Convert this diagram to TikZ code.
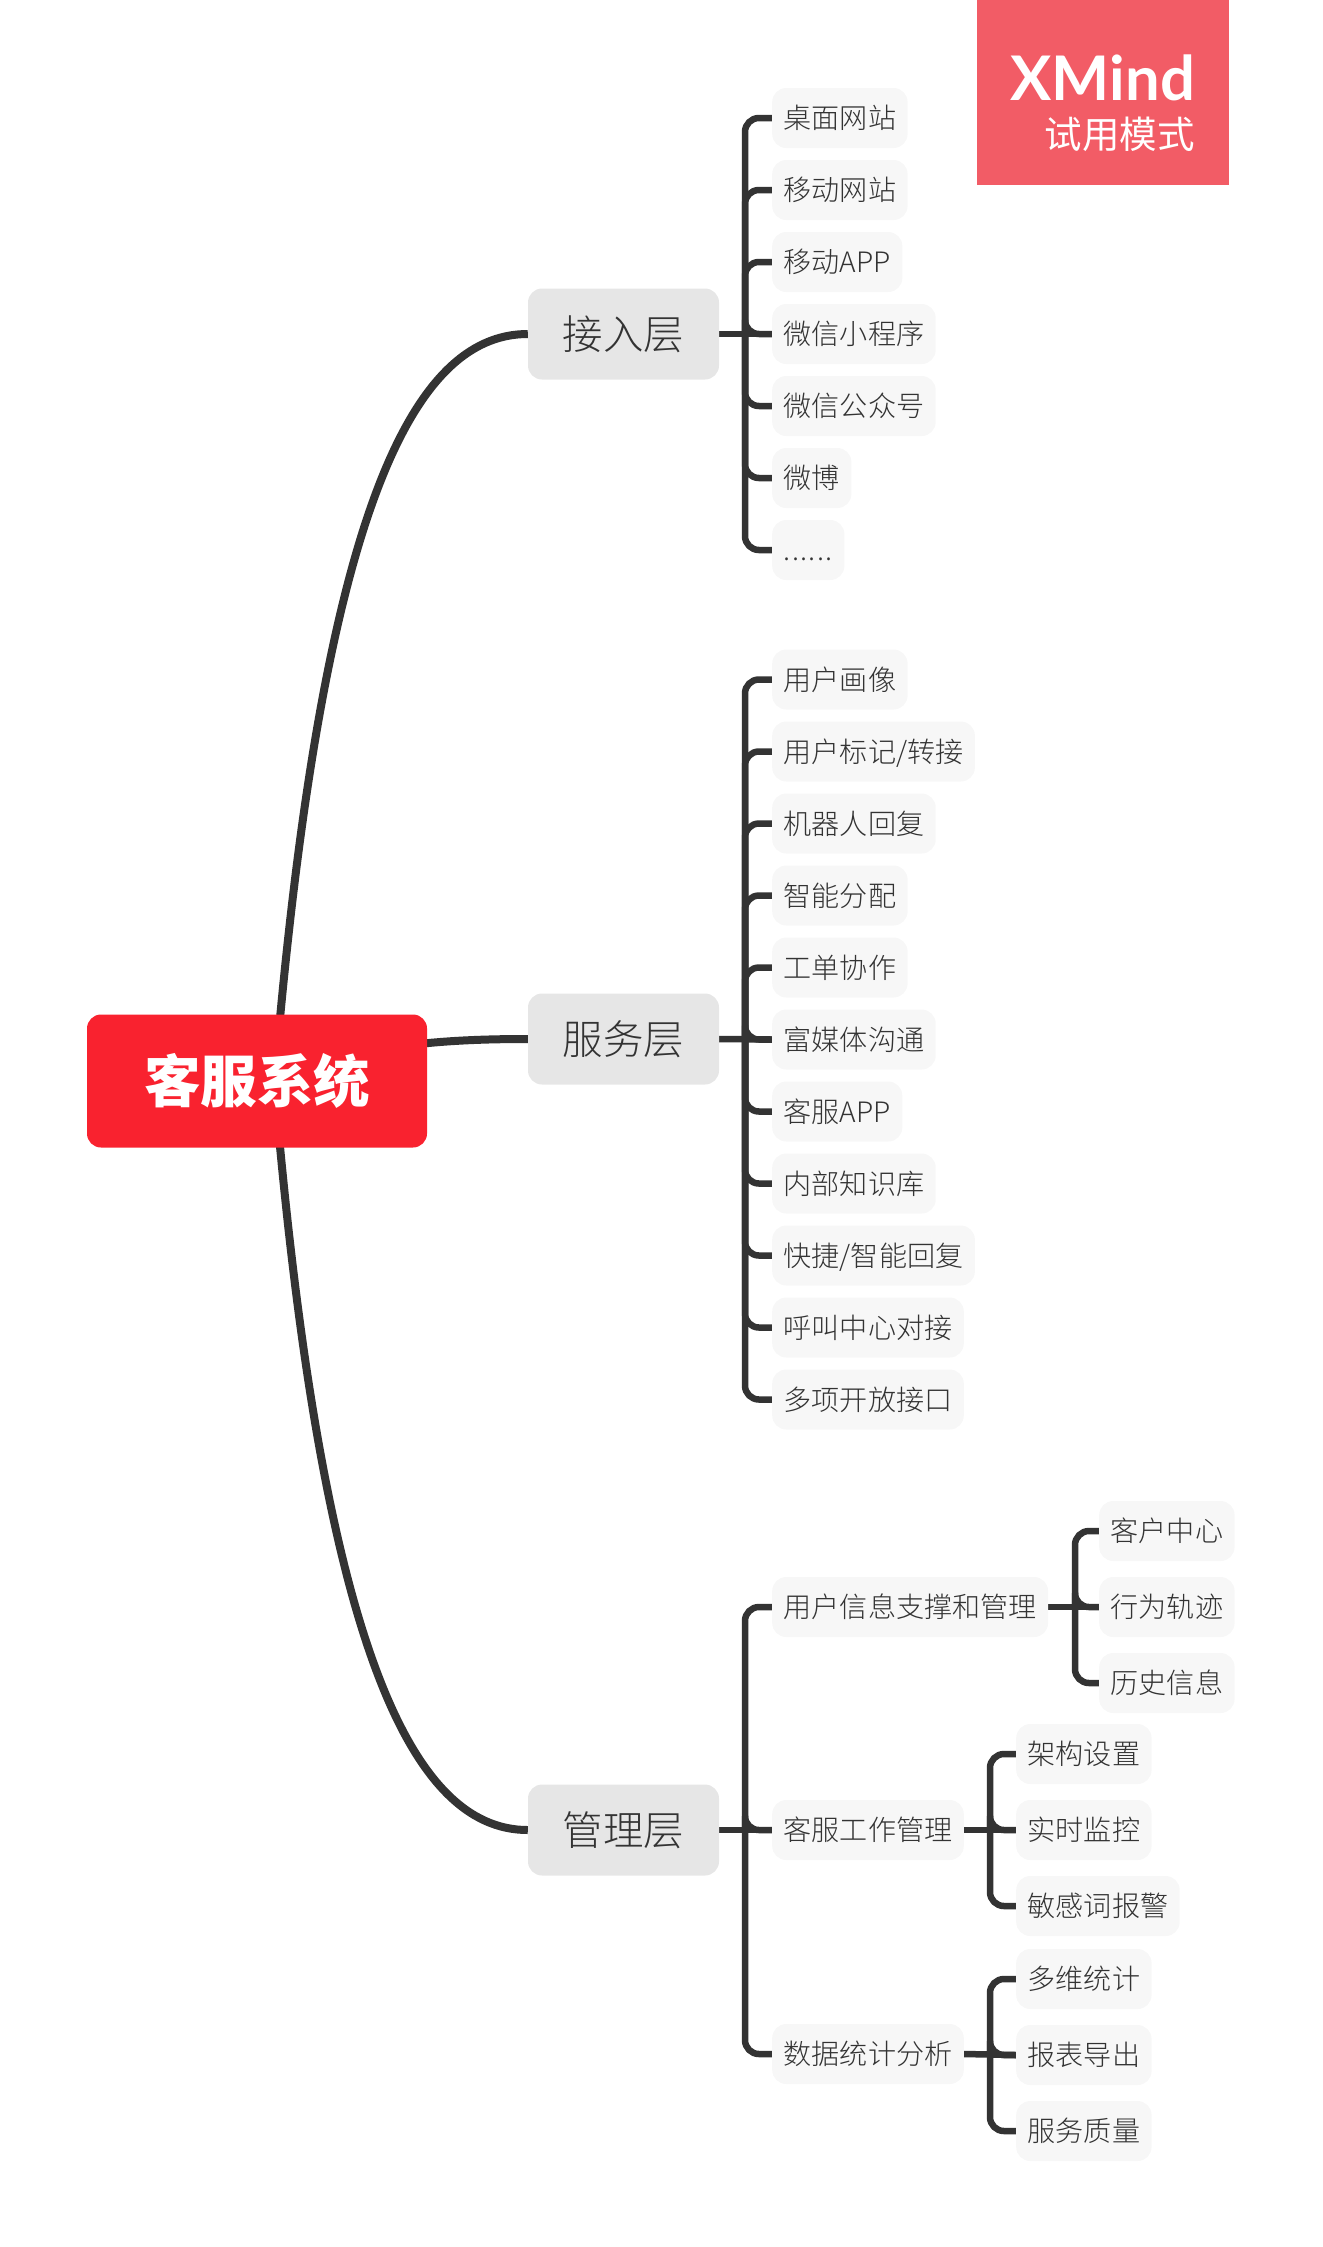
\documentclass[tikz,border=0pt]{standalone}
\usepackage{fontspec}
\setmainfont{Noto Sans CJK SC Light}
\newfontfamily\rootfont{Noto Sans CJK SC Black}
\newfontfamily\markfont{Noto Sans CJK SC}
\newfontfamily\xmfont{Lato}
\usetikzlibrary{backgrounds}
\definecolor{linegray}{HTML}{333333}
\definecolor{rootred}{HTML}{F9222F}
\definecolor{markred}{HTML}{F25C66}
\definecolor{midgray}{HTML}{E6E6E6}
\definecolor{leafgray}{HTML}{F7F7F7}
\tikzset{
  rootbox/.style={fill=rootred, text=white, rounded corners=14, minimum width=340, minimum height=133, font=\fontsize{56.5}{60}\rootfont},
  midbox/.style={fill=midgray, text=linegray, rounded corners=14, minimum width=191, minimum height=91, font=\fontsize{40.5}{46}\selectfont},
  leaf/.style={anchor=west, fill=leafgray, text=linegray, rounded corners=14, inner xsep=11.5, inner ysep=0, text height=25, text depth=3.4, minimum height=60, font=\fontsize{28.1}{34}\selectfont},
  curveline/.style={draw=linegray, line width=8},
  branch/.style={draw=linegray, line width=6.5, rounded corners=14},
}
\begin{document}
\begin{tikzpicture}[x=1pt, y=-1pt]

        \useasboundingbox (0, 0) rectangle (1323, 2247);

        \node[rootbox] (root) at (257, 1081) {客服系统};
        \node[midbox] (access) at (623.5, 334) {接入层};
        \node[midbox] (service) at (623.5, 1039) {服务层};
        \node[midbox] (manage) at (623.5, 1830) {管理层};

        \coordinate (accesstrunk) at (745, 334);
        \coordinate (servicetrunk) at (745, 1039);
        \coordinate (managetrunk) at (745, 1830);

        \foreach \i/\t in {0/桌面网站, 1/移动网站, 2/移动APP, 3/微信小程序, 4/微信公众号, 5/微博, 6/{\addfontfeature{LetterSpace=5}......}}
          \node[leaf] (a\i) at (772, {118 + 72*\i}) {\t};

        \foreach \i/\t in {0/用户画像, 1/{用户标记/转接}, 2/机器人回复, 3/智能分配, 4/工单协作, 5/富媒体沟通, 6/客服APP, 7/内部知识库, 8/{快捷/智能回复}, 9/呼叫中心对接, 10/多项开放接口}
          \node[leaf] (b\i) at (772, {679.5 + 72*\i}) {\t};

        \node[leaf] (c0) at (772, 1607) {用户信息支撑和管理};
        \node[leaf] (c1) at (772, 1830) {客服工作管理};
        \node[leaf] (c2) at (772, 2054) {数据统计分析};

        \foreach \i/\t in {0/客户中心, 1/行为轨迹, 2/历史信息}
          \node[leaf] (d\i) at (1099, {1531 + 76*\i}) {\t};
        \foreach \i/\t in {0/架构设置, 1/实时监控, 2/敏感词报警}
          \node[leaf] (e\i) at (1016, {1754 + 76*\i}) {\t};
        \foreach \i/\t in {0/多维统计, 1/报表导出, 2/服务质量}
          \node[leaf] (f\i) at (1016, {1979 + 76*\i}) {\t};

        \coordinate (dtrunk) at (1075, 1607);
        \coordinate (etrunk) at (990, 1830);
        \coordinate (ftrunk) at (990, 2055);
        \coordinate (roottop) at (278, 1040);
        \coordinate (rootbottom) at (278, 1125);

        \begin{scope}[on background layer]
          \draw[curveline] (roottop) .. controls (325, 520) and (410, 334) .. (access.west);
          \draw[curveline] (root.center) .. controls (360, 1045) and (440, 1039) .. (service.west);
          \draw[curveline] (rootbottom) .. controls (325, 1640) and (410, 1830) .. (manage.west);

          \draw[branch] (access.east) -- (a3.west);
          \foreach \i in {0, ..., 6} \draw[branch] (accesstrunk) |- (a\i.west);

          \draw[branch] (service.east) -- (b5.west);
          \foreach \i in {0, ..., 10} \draw[branch] (servicetrunk) |- (b\i.west);

          \draw[branch] (manage.east) -- (c1.west);
          \foreach \i in {0, 1, 2} \draw[branch] (managetrunk) |- (c\i.west);

          \draw[branch] (c0.east) -- (d1.west);
          \draw[branch] (c1.east) -- (e1.west);
          \draw[branch] (c2.east) -- (f1.west);
          \foreach \i in {0, 1, 2} {
            \draw[branch] (dtrunk) |- (d\i.west);
            \draw[branch] (etrunk) |- (e\i.west);
            \draw[branch] (ftrunk) |- (f\i.west);
          }
        \end{scope}

        \fill[markred] (977, 0) rectangle (1229, 185);
        \node[anchor=base east, inner sep=0, text=white, font=\fontsize{61.5}{66}\xmfont\bfseries] (xmind) at (1195, 100) {XMind};
        \node[anchor=base east, inner sep=0, text=white, font=\fontsize{37.5}{42}\markfont] (xmindsub) at (1195, 148) {试用模式};
      \end{tikzpicture}
\end{document}
